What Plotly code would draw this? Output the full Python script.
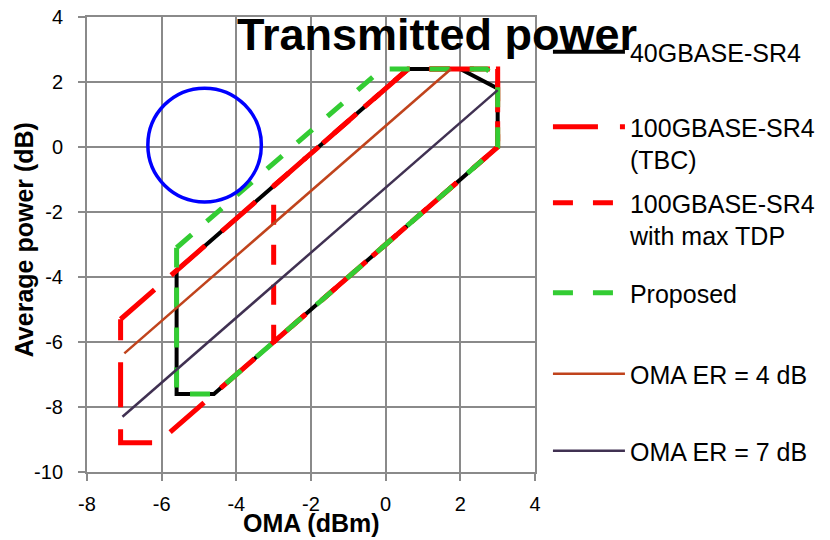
import plotly.graph_objects as go

# ---- data (dB / dBm) ----
sr4_40_oma = [0.6, 2.0, 3.0, 3.0, -4.6, -5.6, -5.6, 0.6]
sr4_40_avg = [2.4, 2.4, 1.8, 0.0, -7.6, -7.6, -3.8, 2.4]

sr4_100_tbc_oma = [-7.1, 0.6, 3.0, 3.0, -6.1, -7.1, -7.1]
sr4_100_tbc_avg = [-5.3, 2.4, 2.4, 0.0, -9.1, -9.1, -5.3]

sr4_100_tdp_oma = [-3.0, 0.6, 3.0, 3.0, -3.0, -3.0]
sr4_100_tdp_avg = [-1.2, 2.4, 2.4, 0.0, -6.0, -1.2]

proposed_oma = [-5.6, -0.1, 2.7, 3.0, 3.0, -4.6, -5.6, -5.6]
proposed_avg = [-3.1, 2.4, 2.4, 2.1, 0.0, -7.6, -7.6, -3.1]

er4_oma = [-7.0, 1.75]
er4_avg = [-6.35, 2.4]

er7_oma = [-7.05, 3.0]
er7_avg = [-8.3, 1.75]

circle_center = (-4.85, 0.06)
circle_radius_x = 1.52
circle_radius_y = 1.75

x_ticks = [-8, -6, -4, -2, 0, 2, 4]
y_ticks = [-10, -8, -6, -4, -2, 0, 2, 4]

FONT = "Liberation Sans, Arial, sans-serif"
GRID = "#8a8a8a"

series = [
    ("40GBASE-SR4", sr4_40_oma, sr4_40_avg, "#000000", 4, "solid"),
    ("100GBASE-SR4<br>(TBC)", sr4_100_tbc_oma, sr4_100_tbc_avg, "#FF0000", 5, "45px,22px"),
    ("100GBASE-SR4<br>with max TDP", sr4_100_tdp_oma, sr4_100_tdp_avg, "#FF0000", 5, "20px,20px"),
    ("Proposed", proposed_oma, proposed_avg, "#33CC33", 5, "20px,20px"),
    ("OMA ER = 4 dB", er4_oma, er4_avg, "#C0431C", 2.5, "solid"),
    ("OMA ER = 7 dB", er7_oma, er7_avg, "#403152", 2.5, "solid"),
]

# page offset (body margin) -> positions below are in screenshot px, converted
OFF = 8
W, H = 822, 532
PLOT_L, PLOT_R, PLOT_T, PLOT_B = 87 - OFF, 537 - OFF, 17 - OFF, 472 - OFF
ML, MR, MT, MB = PLOT_L, W - PLOT_R, PLOT_T, H - PLOT_B
PW = PLOT_R - PLOT_L
PH = PLOT_B - PLOT_T


def px_x(p):
    return ((p - OFF) - PLOT_L) / PW


def px_y(p):
    return 1 - ((p - OFF) - PLOT_T) / PH


# legend vertical positions (top of each entry, screenshot px)
legend_tops = [29, 104, 180, 270, 351, 428]

fig = go.Figure()
layout_legends = {}
for i, (name, xs, ys, col, wid, dash) in enumerate(series):
    key = "legend" if i == 0 else f"legend{i+1}"
    fig.add_trace(go.Scatter(
        x=xs, y=ys, mode="lines", name=name,
        line=dict(color=col, width=wid, dash=dash),
        legend=key, hoverinfo="skip",
    ))
    layout_legends[key] = dict(
        x=px_x(550), xanchor="left",
        y=px_y(legend_tops[i]), yanchor="top",
        bgcolor="rgba(0,0,0,0)",
        font=dict(family=FONT, size=25, color="#000000"),
        itemwidth=72, valign="top",
        tracegroupgap=0,
    )

cx, cy = circle_center
fig.add_shape(type="circle", xref="x", yref="y",
              x0=cx - circle_radius_x, x1=cx + circle_radius_x,
              y0=cy - circle_radius_y, y1=cy + circle_radius_y,
              line=dict(color="#0000FF", width=3.5))

fig.add_annotation(text="<b>Transmitted power</b>", xref="paper", yref="paper",
                   x=px_x(439), y=px_y(35),
                   xanchor="center", yanchor="middle", showarrow=False,
                   font=dict(family=FONT, size=45, color="#000000"))

fig.add_annotation(text="<b>OMA (dBm)</b>", xref="paper", yref="paper",
                   x=px_x(312), y=px_y(523),
                   xanchor="center", yanchor="middle", showarrow=False,
                   font=dict(family=FONT, size=25, color="#000000"))

fig.add_annotation(text="<b>Average power (dB)</b>", xref="paper", yref="paper",
                   x=px_x(24), y=px_y(240), textangle=-90,
                   xanchor="center", yanchor="middle", showarrow=False,
                   font=dict(family=FONT, size=25, color="#000000"))

fig.update_layout(
    width=W, height=H,
    margin=dict(l=ML, r=MR, t=MT, b=MB, pad=0),
    paper_bgcolor="white", plot_bgcolor="white",
    showlegend=True,
    **layout_legends,
)

axis_common = dict(
    showgrid=True, gridcolor=GRID, gridwidth=2,
    showline=True, linecolor=GRID, linewidth=2, mirror=True,
    ticks="outside", ticklen=7, tickwidth=2, tickcolor=GRID,
    zeroline=False, automargin=False, ticklabeloverflow="allow",
    tickfont=dict(family=FONT, size=20, color="#000000"),
)

fig.update_xaxes(range=[-8, 4], tickvals=x_ticks, ticktext=[str(v) for v in x_ticks],
                 ticklabelstandoff=6, **axis_common)
fig.update_yaxes(range=[-10, 4], tickvals=y_ticks, ticktext=[str(v) for v in y_ticks],
                 ticklabelstandoff=11, **axis_common)

fig.write_html("out.html")
